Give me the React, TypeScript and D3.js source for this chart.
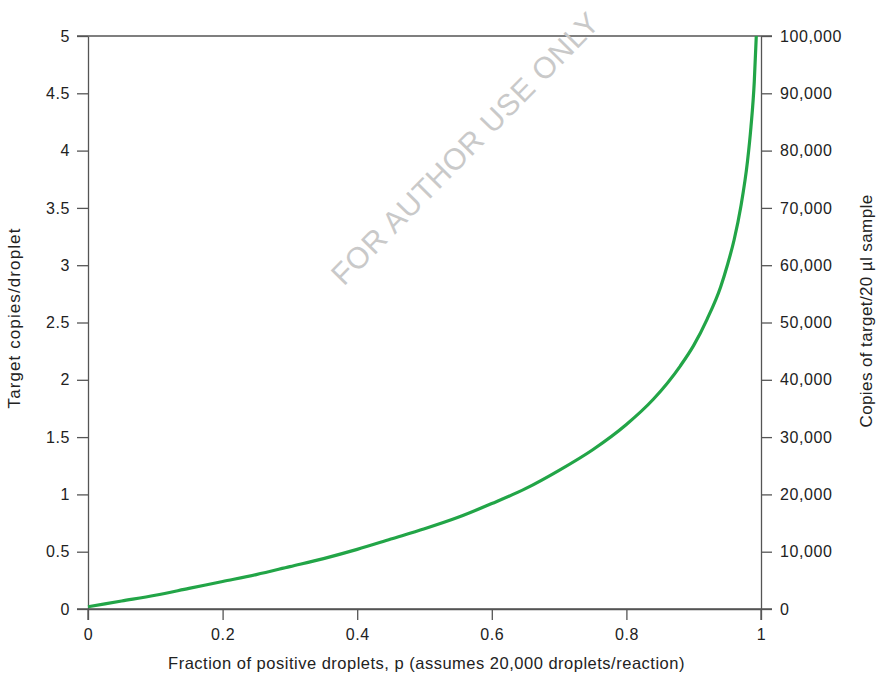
import React, { useRef, useEffect } from "react";
import * as d3 from "d3";

// fraction of positive droplets
const fractions = [
  0, 0.05, 0.1, 0.15, 0.2, 0.25, 0.3, 0.35, 0.4, 0.45, 0.5, 0.55, 0.6, 0.65,
  0.7, 0.75, 0.8, 0.84, 0.88, 0.9, 0.92, 0.94, 0.95, 0.96, 0.97, 0.98, 0.985,
  0.99, 0.993,
];
// target copies per droplet
const copies = [
  0.02, 0.07, 0.12, 0.18, 0.24, 0.3, 0.37, 0.44, 0.52, 0.61, 0.7, 0.8, 0.92,
  1.05, 1.21, 1.39, 1.61, 1.83, 2.12, 2.3, 2.53, 2.81, 3.0, 3.22, 3.51, 3.91,
  4.2, 4.6, 5.0,
];

const xTicks = [0, 0.2, 0.4, 0.6, 0.8, 1];
const yTicks = [0, 0.5, 1, 1.5, 2, 2.5, 3, 3.5, 4, 4.5, 5];
const y2Ticks = [0, 10000, 20000, 30000, 40000, 50000, 60000, 70000, 80000, 90000, 100000];

const App = () => {
  const svgRef = useRef<SVGSVGElement>(null);

  useEffect(() => {
    const W = 879;
    const H = 673;
    const margin = { top: 36, right: 118, bottom: 64, left: 88 };
    const width = W - margin.left - margin.right;
    const height = H - margin.top - margin.bottom;
    const font = "'Liberation Sans', Arial, Helvetica, sans-serif";
    const axisColor = "#555";

    const svg = d3.select(svgRef.current);
    svg.selectAll("*").remove();
    svg.attr("width", W).attr("height", H);

    const g = svg
      .append("g")
      .attr("transform", `translate(${margin.left}, ${margin.top})`);

    const x = d3.scaleLinear().domain([0, 1]).range([0, width]);
    const y = d3.scaleLinear().domain([0, 5]).range([height, 0]);
    const y2 = d3.scaleLinear().domain([0, 100000]).range([height, 0]);

    const styleAxis = (sel: any) => {
      sel.select(".domain").attr("stroke", axisColor).attr("stroke-width", 1.3);
      sel.selectAll(".tick line").attr("stroke", axisColor).attr("stroke-width", 1.3);
      sel
        .selectAll(".tick text")
        .attr("fill", "#222")
        .style("font-family", font)
        .style("font-size", "16px")
        .style("letter-spacing", "0.6px");
    };

    // left axis
    g.append("g")
      .call(
        d3
          .axisLeft(y)
          .tickValues(yTicks)
          .tickSize(11)
          .tickSizeOuter(0)
          .tickPadding(7)
          .tickFormat((d: any) => String(d))
      )
      .call(styleAxis);

    // right axis
    g.append("g")
      .attr("transform", `translate(${width}, 0)`)
      .call(
        d3
          .axisRight(y2)
          .tickValues(y2Ticks)
          .tickSize(11)
          .tickSizeOuter(0)
          .tickPadding(8)
          .tickFormat(d3.format(","))
      )
      .call(styleAxis);

    // bottom axis
    g.append("g")
      .attr("transform", `translate(0, ${height})`)
      .call(
        d3
          .axisBottom(x)
          .tickValues(xTicks)
          .tickSize(11)
          .tickSizeOuter(0)
          .tickPadding(9)
          .tickFormat((d: any) => String(d))
      )
      .call(styleAxis);

    // top frame line
    g.append("line")
      .attr("x1", -11)
      .attr("x2", width + 11)
      .attr("y1", 0)
      .attr("y2", 0)
      .attr("stroke", axisColor)
      .attr("stroke-width", 1.3);

    // axis extensions below the bottom line
    [0, width].forEach((px) => {
      g.append("line")
        .attr("x1", px)
        .attr("x2", px)
        .attr("y1", height)
        .attr("y2", height + 11)
        .attr("stroke", axisColor)
        .attr("stroke-width", 1.3);
    });
    g.append("line")
      .attr("x1", -11)
      .attr("x2", width + 11)
      .attr("y1", height)
      .attr("y2", height)
      .attr("stroke", axisColor)
      .attr("stroke-width", 1.3);

    // watermark
    g.append("text")
      .attr("transform", `translate(${467 - margin.left}, ${150 - margin.top}) rotate(-45.5)`)
      .attr("text-anchor", "middle")
      .attr("dominant-baseline", "middle")
      .attr("fill", "#c9c9c9")
      .style("font-family", font)
      .style("font-size", "30px")
      .style("letter-spacing", "0.7px")
      .style("font-weight", 300)
      .text("FOR AUTHOR USE ONLY");

    // curve
    const points = fractions.map((p, i) => [p, copies[i]] as [number, number]);
    const line = d3
      .line<[number, number]>()
      .x((d) => x(d[0]))
      .y((d) => y(d[1]))
      .curve(d3.curveMonotoneX);

    g.append("path")
      .datum(points)
      .attr("d", line)
      .attr("fill", "none")
      .attr("stroke", "#22a547")
      .attr("stroke-width", 3.2);

    // axis titles
    g.append("text")
      .attr("x", width / 2 + 2)
      .attr("y", height + 60)
      .attr("text-anchor", "middle")
      .attr("fill", "#222")
      .style("font-family", font)
      .style("font-size", "16.5px")
      .style("letter-spacing", "0.5px")
      .text("Fraction of positive droplets, p (assumes 20,000 droplets/reaction)");

    g.append("text")
      .attr("transform", `translate(${-68}, ${height / 2 - 4.5}) rotate(-90)`)
      .attr("text-anchor", "middle")
      .attr("fill", "#222")
      .style("font-family", font)
      .style("font-size", "17px")
      .style("letter-spacing", "1.1px")
      .text("Target copies/droplet");

    g.append("text")
      .attr("transform", `translate(${width + 111}, ${height / 2 - 11.5}) rotate(-90)`)
      .attr("text-anchor", "middle")
      .attr("fill", "#222")
      .style("font-family", font)
      .style("font-size", "17px")
      .style("letter-spacing", "0.4px")
      .text("Copies of target/20 µl sample");
  }, []);

  return (
    <svg
      ref={svgRef}
      style={{ position: "absolute", left: 0, top: 0, background: "#fff" }}
    ></svg>
  );
};

export default App;
